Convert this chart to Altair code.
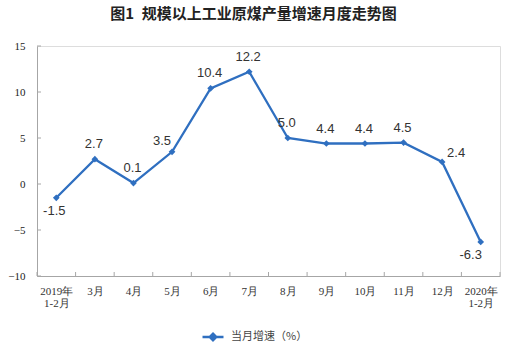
import json
import altair as alt
import pandas as pd

# ---- data ----
line1 = ["2019年", "3月", "4月", "5月", "6月", "7月", "8月", "9月", "10月", "11月", "12月", "2020年"]
line2 = ["1-2月", "", "", "", "", "", "", "", "", "", "", "1-2月"]
values = [-1.5, 2.7, 0.1, 3.5, 10.4, 12.2, 5.0, 4.4, 4.4, 4.5, 2.4, -6.3]
series_name = "当月增速（%）"
title_text = "图1\u2002规模以上工业原煤产量增速月度走势图"
y_ticks = [-10, -5, 0, 5, 10, 15]
x_edges = list(range(13))

BLUE = "#2F6FC0"
W, H = 463, 230

df = pd.DataFrame({"idx": list(range(len(values))), "value": values,
                   "series": [series_name] * len(values)})
df["label"] = [f"{v:.1f}" for v in values]

label_expr = "[" + json.dumps(line1, ensure_ascii=False) + "[floor(datum.value)], " + \
             json.dumps(line2, ensure_ascii=False) + "[floor(datum.value)]]"

xscale = alt.Scale(domain=[0, 12], nice=False, zero=False)
yscale = alt.Scale(domain=[-10, 15], nice=False, zero=False)

base = alt.Chart(df).transform_calculate(xc="datum.idx + 0.5")

xaxis = alt.Axis(values=[i + 0.5 for i in range(12)], labelExpr=label_expr,
                 labelAlign="center", labelBaseline="top", labelPadding=9,
                 labelFont="Liberation Serif", labelFontSize=11, labelColor="#333333",
                 labelLineHeight=12, ticks=False, grid=False, title=None,
                 domainColor="#a6a6a6", labelAngle=0, labelFlush=False, labelOverlap=False)
yaxis = alt.Axis(values=y_ticks, labelFont="Liberation Serif", labelFontSize=11,
                 labelColor="#222222", labelPadding=12, ticks=False, grid=False,
                 title=None, domainColor="#a6a6a6")

line = base.mark_line(color=BLUE, strokeWidth=2.3).encode(
    x=alt.X("xc:Q", scale=xscale, axis=xaxis),
    y=alt.Y("value:Q", scale=yscale, axis=yaxis),
    color=alt.Color("series:N", scale=alt.Scale(range=[BLUE]),
                    legend=alt.Legend(title=None, orient="none", legendX=164, legendY=279,
                                      symbolType="M-1,0L1,0M0,-0.32L0.32,0L0,0.32L-0.32,0Z",
                                      symbolSize=440, symbolStrokeWidth=2.3,
                                      symbolFillColor=BLUE, symbolStrokeColor=BLUE,
                                      labelFont="Noto Sans CJK SC", labelFontSize=11,
                                      labelColor="#444444", labelOffset=6)),
)
points = base.mark_point(shape="diamond", filled=True, size=45, color=BLUE, opacity=1).encode(
    x=alt.X("xc:Q", scale=xscale), y=alt.Y("value:Q", scale=yscale))

txt = dict(font="Liberation Sans", fontSize=13, color="#333333", align="center")
def labels(filt, dx, dy, baseline="middle"):
    return base.transform_filter(filt).mark_text(dx=dx, dy=dy, baseline=baseline, **txt).encode(
        x=alt.X("xc:Q", scale=xscale), y=alt.Y("value:Q", scale=yscale), text="label:N")

lab_above = labels("datum.idx != 0 && datum.idx != 3 && datum.idx != 10 && datum.idx != 11", -1, -15)
lab_below = labels("datum.idx == 0", -2, 13)
lab_35 = labels("datum.idx == 3", -10, -11)
lab_24 = labels("datum.idx == 10", 14, -9)
lab_63 = labels("datum.idx == 11", -10, 13)

xt = alt.Chart(pd.DataFrame({"e": x_edges})).mark_rule(color="#a6a6a6", strokeWidth=1).encode(
    x=alt.X("e:Q", scale=xscale), y=alt.value(H), y2=alt.value(H - 4))
yt = alt.Chart(pd.DataFrame({"t": y_ticks})).mark_rule(color="#a6a6a6", strokeWidth=1).encode(
    y=alt.Y("t:Q", scale=yscale), x=alt.value(0), x2=alt.value(4))

chart = alt.layer(xt, yt, line, points, lab_above, lab_below, lab_35, lab_24, lab_63).properties(
    width=W, height=H,
    title=alt.TitleParams(title_text, font="Noto Sans CJK SC", fontSize=15, fontWeight="bold",
                          color="#222222", anchor="middle", dx=-15, offset=18),
    autosize=alt.AutoSizeParams(type="none"),
    padding={"left": 37, "top": 46, "right": 24, "bottom": 79},
).configure_view(stroke=None).configure(background="white")

chart.save("out.html", embed_options={"renderer": "svg", "actions": False})
